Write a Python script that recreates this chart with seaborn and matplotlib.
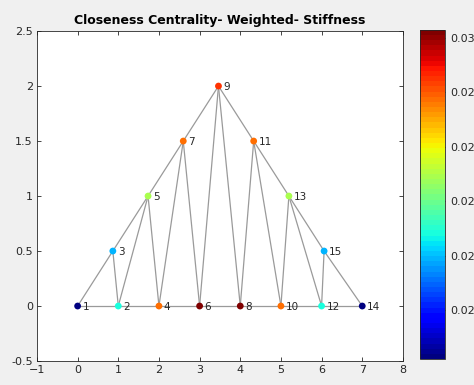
import numpy as np
import pandas as pd
import seaborn as sns
import matplotlib.pyplot as plt
import matplotlib as mpl

# node data
node_ids = list(range(1, 16))
node_x = [0, 1, 0.866, 2, 1.732, 3, 2.598, 4, 3.464, 5, 4.330, 6, 5.196, 7, 6.062]
node_y = [0, 0, 0.5, 0, 1.0, 0, 1.5, 0, 2.0, 0, 1.5, 0, 1.0, 0, 0.5]
closeness = [0.0182, 0.0229, 0.0218, 0.0277, 0.0250, 0.0303, 0.0277, 0.0303,
             0.0285, 0.0277, 0.0277, 0.0229, 0.0250, 0.0182, 0.0218]

edges = [(1, 2), (2, 4), (4, 6), (6, 8), (8, 10), (10, 12), (12, 14),
         (1, 3), (3, 5), (5, 7), (7, 9), (9, 11), (11, 13), (13, 15), (15, 14),
         (3, 2), (5, 2), (5, 4), (7, 4), (7, 6), (9, 6), (9, 8),
         (11, 8), (11, 10), (13, 10), (13, 12), (15, 12)]

cb_ticks = [0.020, 0.022, 0.024, 0.026, 0.028, 0.030]
cb_labels = ['0.02', '0.02', '0.02', '0.02', '0.02', '0.03']
vmin, vmax = 0.0182, 0.0303

df = pd.DataFrame({'id': node_ids, 'x': node_x, 'y': node_y, 'c': closeness})

sns.set_style('white')
plt.rcParams['font.family'] = ['DejaVu Sans']
txt = '#262626'
jet = mpl.colormaps['jet'].resampled(64)

fig = plt.figure(figsize=(4.74, 3.85), dpi=100, facecolor='#f0f0f0')
ax = fig.add_axes([0.078, 0.0623, 0.772, 0.857])
cax = fig.add_axes([0.886, 0.0675, 0.053, 0.855])

for a, b in edges:
    ax.plot([node_x[a - 1], node_x[b - 1]], [node_y[a - 1], node_y[b - 1]],
            color='#9a9a9a', lw=0.9, zorder=1)

sns.scatterplot(data=df, x='x', y='y', hue='c', palette=jet, hue_norm=(vmin, vmax),
                s=24, linewidth=0, legend=False, ax=ax, zorder=3)

for i, x, y in zip(node_ids, node_x, node_y):
    ax.text(x + 0.12, y - 0.01, str(i), fontsize=7.5, color=txt, va='center', ha='left')

ax.set_xlim(-1, 8)
ax.set_ylim(-0.5, 2.5)
ax.set_xticks(range(-1, 9))
ax.set_yticks([-0.5, 0, 0.5, 1, 1.5, 2, 2.5])
ax.set_yticklabels(['-0.5', '0', '0.5', '1', '1.5', '2', '2.5'])
ax.set_xlabel('')
ax.set_ylabel('')
ax.tick_params(direction='in', length=3, bottom=True, left=True, top=True, right=True,
               labelsize=8, colors=txt, width=0.6, pad=3)
for sp in ax.spines.values():
    sp.set_color('#262626')
    sp.set_linewidth(0.6)
ax.set_title('Closeness Centrality- Weighted- Stiffness', fontsize=9, fontweight='bold',
             color='black', pad=5)

sm = mpl.cm.ScalarMappable(norm=mpl.colors.Normalize(vmin, vmax), cmap=jet)
cb = fig.colorbar(sm, cax=cax, ticks=cb_ticks)
cb.set_ticklabels(cb_labels)
cb.ax.tick_params(direction='in', length=3, right=True, left=False, labelsize=8,
                  colors=txt, width=0.6)
cb.outline.set_linewidth(0.6)

fig.savefig('out.png', dpi=100, facecolor=fig.get_facecolor())
